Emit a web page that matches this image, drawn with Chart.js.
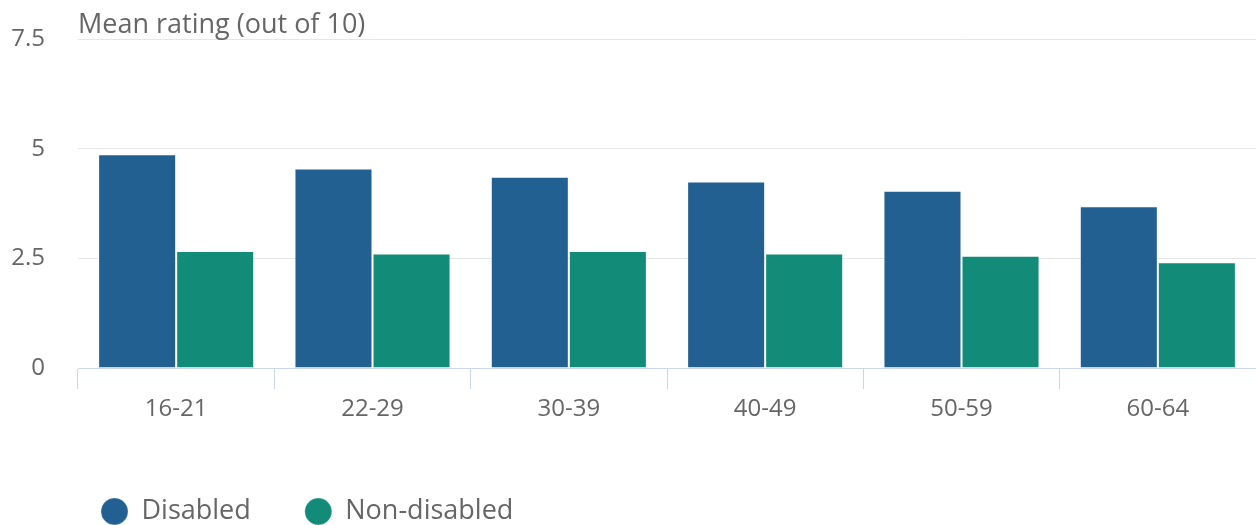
<!DOCTYPE html>
<html>
<head>
<meta charset="utf-8">
<script src="https://cdn.jsdelivr.net/npm/chart.js@4/dist/chart.umd.min.js"></script>
<style>
  html, body { margin: 0; padding: 0; background: #ffffff; }
  #wrap { width: 1256px; height: 525px; position: relative; }
</style>
</head>
<body>
<div id="wrap"><canvas id="c" width="1256" height="525"></canvas></div>
<script>
const categories = ['16-21', '22-29', '30-39', '40-49', '50-59', '60-64'];
const disabled = [4.87, 4.55, 4.36, 4.25, 4.04, 3.69];
const nonDisabled = [2.67, 2.61, 2.67, 2.61, 2.56, 2.41];
const yTicks = [0, 2.5, 5, 7.5];
const axisTitle = 'Mean rating (out of 10)';

const FONT = "'Open Sans', sans-serif";
const TEXT = '#666666';

const titlePlugin = {
  id: 'axisTitleText',
  afterDraw(chart) {
    const ctx = chart.ctx;
    ctx.save();
    ctx.font = '27px ' + FONT;
    ctx.fillStyle = TEXT;
    ctx.textAlign = 'left';
    ctx.textBaseline = 'alphabetic';
    ctx.fillText(axisTitle, chart.chartArea.left, 33);
    ctx.restore();
  }
};

const legendShift = {
  id: 'legendShift',
  afterLayout(chart) {
    const lg = chart.legend;
    if (lg) { lg.left += 47; lg.right += 47; lg.top += 10; lg.bottom += 10; }
  }
};

new Chart(document.getElementById('c'), {
  type: 'bar',
  data: {
    labels: categories,
    datasets: [
      { label: 'Disabled', data: disabled, backgroundColor: '#226092', borderColor: 'rgba(255,255,255,0.25)', borderWidth: 1 },
      { label: 'Non-disabled', data: nonDisabled, backgroundColor: '#128b79', borderColor: 'rgba(255,255,255,0.25)', borderWidth: 1 }
    ]
  },
  plugins: [titlePlugin, legendShift],
  options: {
    responsive: false,
    animation: false,
    devicePixelRatio: 1,
    layout: { padding: { left: 0, right: 0, top: 39, bottom: 0 } },
    datasets: { bar: { categoryPercentage: 0.795, barPercentage: 1 } },
    scales: {
      x: {
        offset: true,
        grid: { offset: true, drawOnChartArea: false, drawTicks: true, tickLength: 21, color: '#ccd6eb', lineWidth: 1 },
        border: { display: true, color: '#ccd6eb', width: 1 },
        ticks: { color: TEXT, font: { family: FONT, size: 24 }, padding: 6, maxRotation: 0 },
        afterFit(scale) { scale.height = 66; }
      },
      y: {
        min: yTicks[0], max: yTicks[yTicks.length - 1],
        grid: { color: '#e6e6e6', lineWidth: 1, drawTicks: true, tickLength: 33, tickColor: 'rgba(0,0,0,0)' },
        border: { display: false },
        ticks: { stepSize: yTicks[1] - yTicks[0], color: TEXT, font: { family: FONT, size: 24 }, padding: 0 },
        afterFit(scale) { scale.width = 78; }
      }
    },
    plugins: {
      tooltip: { enabled: false },
      legend: {
        position: 'bottom',
        align: 'start',
        labels: {
          usePointStyle: true,
          pointStyle: 'circle',
          boxHeight: 19,
          pointStyleWidth: 27,
          padding: 54,
          color: TEXT,
          font: { family: FONT, size: 27 }
        }
      }
    }
  }
});
</script>
</body>
</html>
